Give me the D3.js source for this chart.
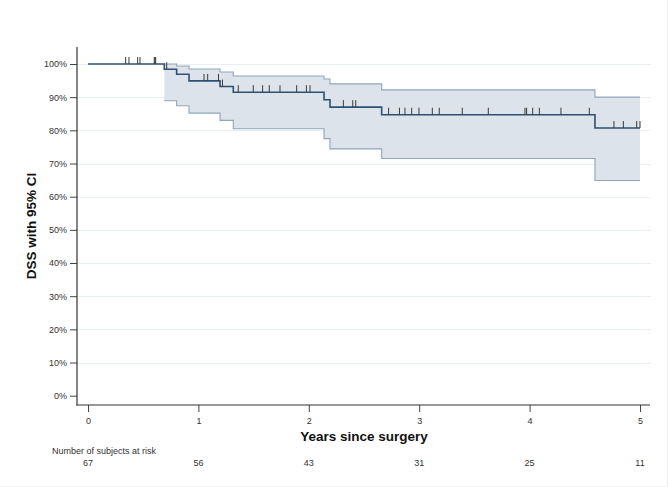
<!DOCTYPE html>
<html>
<head>
<meta charset="utf-8">
<script src="https://cdn.jsdelivr.net/npm/d3@7"></script>
<style>
  html, body { margin: 0; padding: 0; background: #fff; }
  svg { display: block; font-family: "Liberation Sans", Arial, sans-serif; }
</style>
</head>
<body>
<svg id="chart" width="669" height="487"></svg>
<script>
// ---- data ----
const stepTimes = [0, 0.691, 0.803, 0.915, 1.196, 1.316, 2.138, 2.192, 2.660, 4.592];
const survival  = [1, 0.984, 0.969, 0.949, 0.932, 0.915, 0.892, 0.870, 0.847, 0.807];
const upperCI   = [1, 1.000, 0.994, 0.985, 0.976, 0.964, 0.955, 0.940, 0.922, 0.900];
const lowerCI   = [1, 0.889, 0.874, 0.852, 0.830, 0.805, 0.775, 0.744, 0.715, 0.649];
const censorTimes = [0.341, 0.371, 0.450, 0.471, 0.600, 0.607, 0.613, 0.713,
  1.051, 1.084, 1.182, 1.218, 1.361, 1.497, 1.582, 1.642, 1.739, 1.890, 1.978, 2.011,
  2.313, 2.398, 2.425, 2.723, 2.821, 2.871, 2.932, 2.998, 3.119, 3.182, 3.390, 3.626,
  3.958, 3.973, 4.028, 4.088, 4.284, 4.541, 4.764, 4.849, 4.970, 5.0];
const xTicks = [0, 1, 2, 3, 4, 5];
const yTicks = [0, 0.1, 0.2, 0.3, 0.4, 0.5, 0.6, 0.7, 0.8, 0.9, 1.0];
const atRisk = [67, 56, 43, 31, 25, 11];
const endTime = 5;

// ---- layout ----
const svg = d3.select("#chart");
const x = d3.scaleLinear().domain([0, 5]).range([88, 640]);
const y = d3.scaleLinear().domain([0, 1]).range([395.7, 64]);
const axisX = 77, axisY = 405;

const survAt = t => { let v = survival[0]; for (let i = 0; i < stepTimes.length; i++) if (stepTimes[i] <= t) v = survival[i]; return v; };

// faint outer frame
svg.append("line").attr("x1", 667.5).attr("x2", 667.5).attr("y1", 0).attr("y2", 486.5).attr("stroke", "#f1f3f4");
svg.append("line").attr("x1", 0).attr("x2", 668).attr("y1", 486.5).attr("y2", 486.5).attr("stroke", "#f1f3f4");

// gridlines
svg.append("g").selectAll("line").data(yTicks.filter(d => d > 0)).join("line")
  .attr("x1", axisX).attr("x2", 651)
  .attr("y1", d => Math.round(y(d)) + 0.5).attr("y2", d => Math.round(y(d)) + 0.5)
  .attr("stroke", "#e8f0f1").attr("stroke-width", 1);

// CI band (starts at first event)
const bandData = stepTimes.map((t, i) => ({t, lo: lowerCI[i], hi: upperCI[i]})).filter(d => d.t >= stepTimes[1]);
bandData.push({t: endTime, lo: lowerCI[lowerCI.length - 1], hi: upperCI[upperCI.length - 1]});
const area = d3.area().curve(d3.curveStepAfter).x(d => x(d.t)).y0(d => y(d.lo)).y1(d => y(d.hi));
svg.append("path").datum(bandData).attr("d", area).attr("fill", "#dde3ea").attr("stroke", "none");
const lineHi = d3.line().curve(d3.curveStepAfter).x(d => x(d.t)).y(d => y(d.hi));
const lineLo = d3.line().curve(d3.curveStepAfter).x(d => x(d.t)).y(d => y(d.lo));
svg.append("path").datum(bandData).attr("d", lineHi).attr("fill", "none").attr("stroke", "#8fa5bc").attr("stroke-width", 1.1);
svg.append("path").datum(bandData).attr("d", lineLo).attr("fill", "none").attr("stroke", "#8fa5bc").attr("stroke-width", 1.1);

// survival curve
const survData = stepTimes.map((t, i) => ({t, s: survival[i]}));
survData.push({t: endTime, s: survival[survival.length - 1]});
const survLine = d3.line().curve(d3.curveStepAfter).x(d => x(d.t)).y(d => y(d.s));
svg.append("path").datum(survData).attr("d", survLine).attr("fill", "none")
  .attr("stroke", "#2e5274").attr("stroke-width", 1.6);

// censor marks
svg.append("g").selectAll("line").data(censorTimes).join("line")
  .attr("x1", d => x(d)).attr("x2", d => x(d))
  .attr("y1", d => y(survAt(d))).attr("y2", d => y(survAt(d)) - 7)
  .attr("stroke", "#3a3a3a").attr("stroke-width", 1);

// axes
const yAxis = d3.axisLeft(y).tickValues(yTicks).tickSize(7).tickPadding(3).tickFormat(d3.format(".0%"));
const gy = svg.append("g").attr("transform", `translate(${axisX},0)`).call(yAxis);
gy.select(".domain").remove();
gy.selectAll(".tick line").attr("stroke", "#444");
gy.selectAll(".tick text").attr("font-size", 9).attr("fill", "#333").attr("font-family", "Liberation Sans, Arial, sans-serif");

const xAxis = d3.axisBottom(x).tickValues(xTicks).tickSize(7).tickPadding(6).tickFormat(d3.format("d"));
const gx = svg.append("g").attr("transform", `translate(0,${axisY})`).call(xAxis);
gx.select(".domain").remove();
gx.selectAll(".tick line").attr("stroke", "#444");
gx.selectAll(".tick text").attr("font-size", 9).attr("fill", "#333").attr("font-family", "Liberation Sans, Arial, sans-serif");

svg.append("line").attr("x1", axisX).attr("x2", axisX).attr("y1", 47).attr("y2", axisY + 0.5)
  .attr("stroke", "#333").attr("stroke-width", 1.2);
svg.append("line").attr("x1", axisX - 0.5).attr("x2", 650).attr("y1", axisY).attr("y2", axisY)
  .attr("stroke", "#333").attr("stroke-width", 1.2);

// titles
svg.append("text").attr("x", x(2.5)).attr("y", 441).attr("text-anchor", "middle")
  .attr("font-size", 13.5).attr("font-weight", "bold").attr("fill", "#111").text("Years since surgery");
svg.append("text").attr("transform", `translate(36,226) rotate(-90)`).attr("text-anchor", "middle")
  .attr("font-size", 13.5).attr("font-weight", "bold").attr("fill", "#111").text("DSS with 95% CI");

// number at risk
svg.append("text").attr("x", 52).attr("y", 454).attr("font-size", 9).attr("fill", "#333").text("Number of subjects at risk");
svg.append("g").selectAll("text").data(atRisk).join("text")
  .attr("x", (d, i) => x(xTicks[i])).attr("y", 466).attr("text-anchor", "middle")
  .attr("font-size", 9).attr("fill", "#333").text(d => d);
</script>
</body>
</html>
